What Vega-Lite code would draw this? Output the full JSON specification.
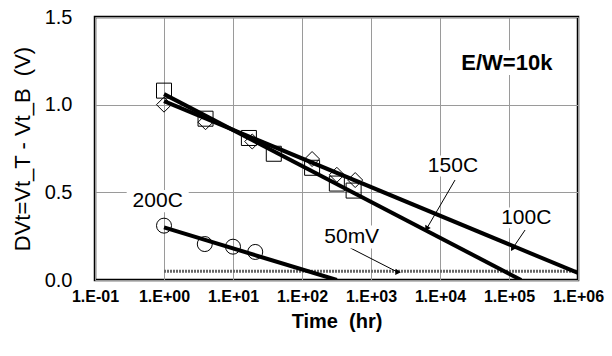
{
  "$schema": "https://vega.github.io/schema/vega-lite/v6.json",
  "width": 483,
  "height": 263,
  "autosize": {"type": "none"},
  "padding": {"left": 95, "top": 17, "right": 34, "bottom": 76},
  "background": "white",
  "config": {
    "font": "Liberation Sans",
    "view": {"stroke": "black", "strokeWidth": 2.5},
    "axis": {"domain": false, "ticks": false, "tickSize": 0, "grid": true, "gridColor": "#9a9a9a", "gridWidth": 1, "labelColor": "black", "titleColor": "black"}
  },
  "datasets": {
    "points": [
      {"series": "150C", "time": 1, "dv": 1.08},
      {"series": "150C", "time": 4, "dv": 0.92},
      {"series": "150C", "time": 17, "dv": 0.81},
      {"series": "150C", "time": 39, "dv": 0.72},
      {"series": "150C", "time": 140, "dv": 0.64},
      {"series": "150C", "time": 320, "dv": 0.55},
      {"series": "150C", "time": 560, "dv": 0.51},
      {"series": "100C", "time": 1, "dv": 1.0},
      {"series": "100C", "time": 4, "dv": 0.9},
      {"series": "100C", "time": 19, "dv": 0.79},
      {"series": "100C", "time": 140, "dv": 0.69},
      {"series": "100C", "time": 320, "dv": 0.6},
      {"series": "100C", "time": 590, "dv": 0.57},
      {"series": "200C", "time": 1, "dv": 0.31},
      {"series": "200C", "time": 3.9, "dv": 0.205},
      {"series": "200C", "time": 10, "dv": 0.19},
      {"series": "200C", "time": 21, "dv": 0.16}
    ],
    "fits": [
      {"series": "150C", "time": 1, "dv": 1.06},
      {"series": "150C", "time": 150000, "dv": 0.0},
      {"series": "100C", "time": 1, "dv": 1.02},
      {"series": "100C", "time": 1000000, "dv": 0.04},
      {"series": "200C", "time": 1, "dv": 0.30},
      {"series": "200C", "time": 320, "dv": 0.0}
    ],
    "ref": [
      {"time": 1, "dv": 0.05},
      {"time": 1000000, "dv": 0.05}
    ],
    "arrows": [
      {"arrow": "150C", "end": "tail", "time": 16500, "dv": 0.57},
      {"arrow": "150C", "end": "tip", "time": 6500, "dv": 0.297},
      {"arrow": "100C", "end": "tail", "time": 171000, "dv": 0.285},
      {"arrow": "100C", "end": "tip", "time": 114000, "dv": 0.183},
      {"arrow": "50mV", "end": "tail", "time": 500, "dv": 0.183},
      {"arrow": "50mV", "end": "tip", "time": 2400, "dv": 0.046}
    ],
    "labels": [
      {"label": "200C", "time": 0.81, "dv": 0.45},
      {"label": "150C", "time": 15400, "dv": 0.65},
      {"label": "100C", "time": 178000, "dv": 0.354},
      {"label": "50mV", "time": 525, "dv": 0.245}
    ],
    "title": [
      {"label": "E/W=10k", "time": 93000, "dv": 1.24}
    ]
  },
  "encoding": {
    "x": {
      "field": "time", "type": "quantitative",
      "scale": {"type": "log", "domain": [0.1, 1000000], "nice": false},
      "axis": {
        "values": [0.1, 1, 10, 100, 1000, 10000, 100000, 1000000],
        "labelExpr": "'1.E' + (datum.value < 1 ? '-' : '+') + '0' + format(abs(round(log(datum.value) / LN10)), 'd')",
        "labelFontSize": 16, "labelFontWeight": "bold", "labelPadding": 8, "labelFlush": false, "labelOverlap": false,
        "title": "Time\u00a0\u00a0(hr)", "titleFontSize": 20, "titleFontWeight": "bold", "titlePadding": 7
      }
    },
    "y": {
      "field": "dv", "type": "quantitative",
      "scale": {"domain": [0, 1.5], "nice": false, "zero": false},
      "axis": {
        "values": [0, 0.5, 1, 1.5], "format": ".1f",
        "labelFontSize": 20, "labelPadding": 23, "labelFlush": false,
        "title": "DVt=Vt_T - Vt_B\u00a0\u00a0(V)", "titleFontSize": 22, "titleFontWeight": "normal", "titlePadding": 10
      }
    }
  },
  "layer": [
    {
      "data": {"name": "ref"},
      "mark": {"type": "line", "color": "#666666", "strokeWidth": 3, "strokeDash": [2, 1]},
      "encoding": {}
    },
    {
      "data": {"name": "points"},
      "mark": {"type": "point", "filled": false, "color": "black", "strokeWidth": 1, "size": 225, "opacity": 1},
      "encoding": {
        "shape": {"field": "series", "type": "nominal", "scale": {"domain": ["150C", "100C", "200C"], "range": ["square", "diamond", "circle"]}, "legend": null}
      }
    },
    {
      "data": {"name": "fits"},
      "mark": {"type": "line", "color": "black", "strokeWidth": 4, "clip": true},
      "encoding": {"detail": {"field": "series", "type": "nominal"}}
    },
    {
      "data": {"name": "arrows"},
      "mark": {"type": "line", "color": "black", "strokeWidth": 1},
      "encoding": {"detail": {"field": "arrow", "type": "nominal"}}
    },
    {
      "data": {"name": "arrows"},
      "transform": [{"filter": "datum.end === 'tip'"}],
      "mark": {"type": "point", "shape": "triangle", "filled": true, "color": "black", "size": 40, "opacity": 1},
      "encoding": {
        "angle": {"field": "arrow", "type": "nominal", "scale": {"domain": ["150C", "100C", "50mV"], "range": [210, 214, 117]}, "legend": null}
      }
    },
    {
      "data": {"name": "labels"},
      "mark": {"type": "point", "shape": "M-1,-0.36H1V0.36H-1Z", "filled": true, "color": "white", "opacity": 1, "strokeWidth": 0},
      "encoding": {
        "size": {"field": "label", "type": "nominal", "scale": {"type": "ordinal", "domain": ["200C", "150C", "100C", "50mV"], "range": [3844, 3364, 3364, 4096]}, "legend": null}
      }
    },
    {
      "data": {"name": "title"},
      "mark": {"type": "point", "shape": "M-1,-0.22H1V0.22H-1Z", "filled": true, "color": "white", "opacity": 1, "strokeWidth": 0, "size": 12544},
      "encoding": {}
    },
    {
      "data": {"name": "labels"},
      "mark": {"type": "text", "fontSize": 21, "color": "black", "align": "center", "baseline": "middle"},
      "encoding": {"text": {"field": "label"}}
    },
    {
      "data": {"name": "title"},
      "mark": {"type": "text", "fontSize": 22, "fontWeight": "bold", "color": "black", "align": "center", "baseline": "middle"},
      "encoding": {"text": {"field": "label"}}
    }
  ]
}
